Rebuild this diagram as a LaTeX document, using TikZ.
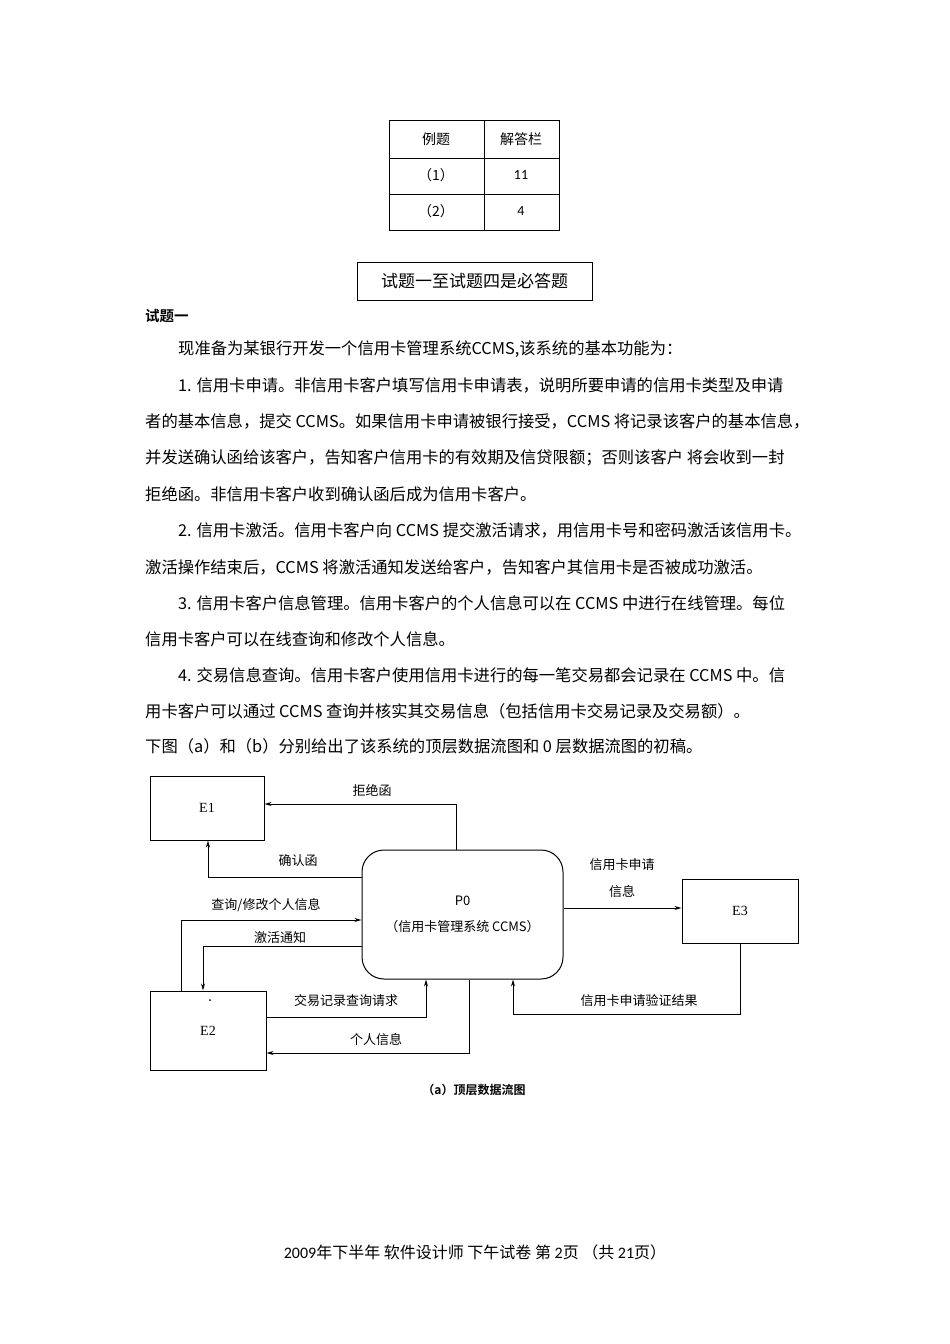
\documentclass[tikz,border=0pt]{standalone}
\usepackage{fontspec}
\setmainfont{Liberation Serif}
\newfontfamily\cjk{Noto Sans CJK SC}
\newfontfamily\cjkb{Noto Sans CJK SC}[BoldFont={* Bold}]
\usetikzlibrary{arrows.meta}
\begin{document}
\begin{tikzpicture}[x=1pt,y=-1pt,
  txt/.style={anchor=west,inner sep=0,font=\cjk\fontsize{16.3}{18}\selectfont},
  lab/.style={inner sep=0,font=\cjk\fontsize{13}{15}\selectfont},
  tab/.style={inner sep=0,font=\cjk\fontsize{14}{16}\selectfont},
  ent/.style={draw,line width=1pt,inner sep=0,font=\fontsize{14}{16}\selectfont},
  flow/.style={line width=1pt,-{Stealth[length=7pt,width=4pt]}}]
\useasboundingbox[fill=white] (0,0) rectangle (950,1344);
% table
\draw[line width=0.6pt] (389,120) rectangle (559,230);
\draw[line width=0.6pt] (484,120) -- (484,230) (389,158) -- (559,158) (389,194) -- (559,194);
\node[tab] (t1) at (436,139) {例题};
\node[tab] (t2) at (521,139) {解答栏};
\node[tab] (t3) at (436,175) {（1）};
\node[tab] (t4) at (521,175) {\fontspec{Carlito}11};
\node[tab] (t5) at (436,211) {（2）};
\node[tab] (t6) at (521,211) {\fontspec{Carlito}4};
\node[draw,line width=0.6pt,minimum width=235,minimum height=38,inner sep=0,font=\cjk\fontsize{17}{18}\selectfont] (must) at (474.5,281) {试题一至试题四是必答题};
\node[txt,font=\cjkb\bfseries\fontsize{14.5}{16}\selectfont] (q1) at (145,316) {试题一};
\node[txt] (l1) at (178,349) {现准备为某银行开发一个信用卡管理系统CCMS,该系统的基本功能为：};
\node[txt] (l2) at (178,385) {1. 信用卡申请。非信用卡客户填写信用卡申请表，说明所要申请的信用卡类型及申请};
\node[txt] (l3) at (145,421) {者的基本信息，提交 CCMS。如果信用卡申请被银行接受，CCMS 将记录该客户的基本信息，};
\node[txt] (l4) at (145,458) {并发送确认函给该客户，告知客户信用卡的有效期及信贷限额；否则该客户 将会收到一封};
\node[txt] (l5) at (145,494) {拒绝函。非信用卡客户收到确认函后成为信用卡客户。};
\node[txt] (l6) at (178,530) {2. 信用卡激活。信用卡客户向 CCMS 提交激活请求，用信用卡号和密码激活该信用卡。};
\node[txt] (l7) at (145,567) {激活操作结束后，CCMS 将激活通知发送给客户，告知客户其信用卡是否被成功激活。};
\node[txt] (l8) at (178,603) {3. 信用卡客户信息管理。信用卡客户的个人信息可以在 CCMS 中进行在线管理。每位};
\node[txt] (l9) at (145,639) {信用卡客户可以在线查询和修改个人信息。};
\node[txt] (l10) at (178,675) {4. 交易信息查询。信用卡客户使用信用卡进行的每一笔交易都会记录在 CCMS 中。信};
\node[txt] (l11) at (145,711) {用卡客户可以通过 CCMS 查询并核实其交易信息（包括信用卡交易记录及交易额）。};
\node[txt] (l12) at (145,746) {下图（a）和（b）分别给出了该系统的顶层数据流图和 0 层数据流图的初稿。};
% diagram
\node[ent,minimum width=114,minimum height=64] (E1) at (207,808) {E1};
\node[ent,minimum width=116,minimum height=79] (E2) at (208,1030.5) {E2};
\node[ent,minimum width=116,minimum height=64] (E3) at (740,911) {E3};
\node[draw,line width=1pt,rounded corners=22,minimum width=201,minimum height=129,inner sep=0,align=center,font=\cjk\fontsize{13}{26}\selectfont] (P0) at (462.5,914.5) {P0\\（信用卡管理系统 CCMS）};
\node[circle,fill,inner sep=0.7pt] (dot) at (210,1000) {};
\draw[flow] (P0.north -| 456,0) |- (E1.east |- 0,804);
\draw[flow] (P0.west |- 0,877) -| (E1.south -| 208,0);
\draw[flow] (E2.north -| 181,0) |- (P0.west |- 0,920);
\draw[flow] (P0.west |- 0,946) -| (E2.north -| 203,0);
\draw[flow] (E2.east |- 0,1017) -| (P0.south -| 426,0);
\draw[flow] (P0.south -| 469,0) |- (E2.east |- 0,1053);
\draw[flow] (P0.east |- 0,908) -- (E3.west |- 0,908);
\draw[flow] (E3.south) |- (513,1014) -- (P0.south -| 513,0);
\node[lab] (a1) at (372,790) {拒绝函};
\node[lab] (a2) at (298,861) {确认函};
\node[lab] (a3) at (266,905) {查询/修改个人信息};
\node[lab] (a4) at (280,938) {激活通知};
\node[lab] (a5) at (346,1001) {交易记录查询请求};
\node[lab] (a6) at (376,1040) {个人信息};
\node[lab] (a7) at (622,865) {信用卡申请};
\node[lab] (a8) at (622,892) {信息};
\node[lab] (a9) at (639,1001) {信用卡申请验证结果};
\node[lab,font=\cjkb\bfseries\fontsize{12}{14}\selectfont] (cap) at (474,1090) {（a）顶层数据流图};
\node[inner sep=0,font=\cjk\fontsize{16}{18}\selectfont] (foot) at (475,1252) {\fontspec{Carlito}2009\cjk 年下半年 软件设计师 下午试卷 第 \fontspec{Carlito}2\cjk 页 （共 \fontspec{Carlito}21\cjk 页）};
\end{tikzpicture}
\end{document}
